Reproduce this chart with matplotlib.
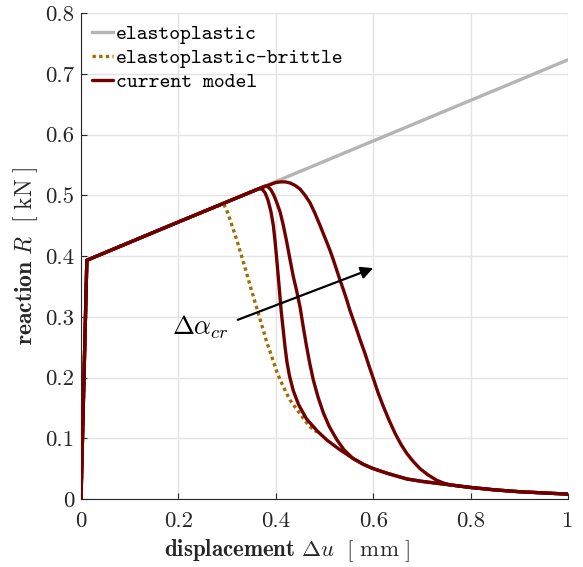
import matplotlib
matplotlib.use("Agg")
import matplotlib.pyplot as plt

plt.rcParams['mathtext.fontset'] = 'cm'
plt.rcParams['font.family'] = ['cmr10', 'DejaVu Serif']
plt.rcParams['axes.formatter.use_mathtext'] = True

# ---- data ----
x_ep = [0.0, 0.012, 1.0]
y_ep = [0.0, 0.393, 0.723]

x_epb = [0.0, 0.012, 0.2, 0.28, 0.288, 0.294, 0.299, 0.306, 0.313, 0.320, 0.326,
         0.333, 0.340, 0.347, 0.354, 0.361, 0.368, 0.375, 0.381, 0.388, 0.394,
         0.401, 0.409, 0.419, 0.429, 0.440, 0.450, 0.460, 0.470, 0.485]
y_epb = [0.0, 0.393, 0.456, 0.482, 0.485, 0.484, 0.476, 0.460, 0.443, 0.426, 0.410,
         0.391, 0.372, 0.352, 0.333, 0.314, 0.295, 0.276, 0.259, 0.243, 0.229,
         0.212, 0.196, 0.179, 0.163, 0.151, 0.140, 0.129, 0.119, 0.110]

x_cm1 = [0.0, 0.012, 0.2, 0.36, 0.366, 0.372, 0.378, 0.384, 0.390, 0.395, 0.399,
         0.403, 0.407, 0.411, 0.415, 0.419, 0.423, 0.428, 0.436, 0.447, 0.463,
         0.485, 0.505, 0.53, 0.545, 0.56, 0.58, 0.6, 0.63, 0.669, 0.7, 0.74,
         0.8, 0.85, 0.9, 0.95, 1.0]
y_cm1 = [0.0, 0.393, 0.456, 0.509, 0.511, 0.510, 0.504, 0.492, 0.473, 0.450, 0.420,
         0.385, 0.348, 0.310, 0.280, 0.250, 0.225, 0.203, 0.178, 0.155, 0.132,
         0.112, 0.097, 0.082, 0.074, 0.066, 0.057, 0.050, 0.042, 0.033, 0.029, 0.025,
         0.019, 0.015, 0.012, 0.010, 0.008]

x_cm2 = [0.0, 0.012, 0.2, 0.36, 0.372, 0.378, 0.384, 0.390, 0.396, 0.402, 0.409,
         0.415, 0.422, 0.429, 0.436, 0.443, 0.450, 0.456, 0.463, 0.470, 0.477,
         0.487, 0.498, 0.510, 0.525, 0.540, 0.558, 0.58, 0.6, 0.63, 0.669, 0.7,
         0.74, 0.8, 0.85, 0.9, 0.95, 1.0]
y_cm2 = [0.0, 0.393, 0.456, 0.509, 0.513, 0.515, 0.514, 0.509, 0.500, 0.488, 0.472,
         0.452, 0.425, 0.395, 0.366, 0.342, 0.315, 0.285, 0.252, 0.222, 0.196,
         0.167, 0.141, 0.119, 0.098, 0.081, 0.067, 0.057, 0.050, 0.042, 0.033, 0.029,
         0.025, 0.019, 0.015, 0.012, 0.010, 0.008]

x_cm3 = [0.0, 0.012, 0.2, 0.36, 0.38, 0.39, 0.40, 0.41, 0.42, 0.43, 0.44, 0.45,
         0.46, 0.47, 0.48, 0.491, 0.50, 0.511, 0.518, 0.525, 0.532, 0.539, 0.546,
         0.552, 0.559, 0.566, 0.574, 0.583, 0.591, 0.600, 0.610, 0.621, 0.633,
         0.645, 0.657, 0.669, 0.682, 0.696, 0.712, 0.730, 0.745, 0.76, 0.8, 0.85,
         0.9, 0.95, 1.0]
y_cm3 = [0.0, 0.393, 0.456, 0.509, 0.515, 0.518, 0.521, 0.522, 0.522, 0.520, 0.516,
         0.510, 0.500, 0.488, 0.471, 0.450, 0.432, 0.410, 0.394, 0.377, 0.360, 0.344,
         0.327, 0.311, 0.295, 0.279, 0.260, 0.240, 0.220, 0.199, 0.175, 0.152, 0.129,
         0.108, 0.090, 0.075, 0.062, 0.050, 0.040, 0.031, 0.026, 0.023, 0.019, 0.015,
         0.012, 0.010, 0.008]

x_ticks = [0, 0.2, 0.4, 0.6, 0.8, 1.0]
x_ticklabels = ['0', '0.2', '0.4', '0.6', '0.8', '1']
y_ticks = [0, 0.1, 0.2, 0.3, 0.4, 0.5, 0.6, 0.7, 0.8]
y_ticklabels = ['0', '0.1', '0.2', '0.3', '0.4', '0.5', '0.6', '0.7', '0.8']

labels = ['elastoplastic', 'elastoplastic-brittle', 'current model']

arrow_start = (0.322, 0.295)
arrow_end = (0.600, 0.380)
arrow_text_pos = (0.245, 0.282)

# ---- figure ----
fig = plt.figure(figsize=(5.83, 5.67), dpi=100)
ax = fig.add_axes([81 / 583, 1 - 499 / 567, (568 - 81) / 583, (499 - 13) / 567])

c_gray = '#b4b4b4'
c_brit = '#a46c00'
c_cm = '#700000'
lw = 2.4

ax.plot(x_ep, y_ep, color=c_gray, lw=lw, label=labels[0], zorder=2)
ax.plot(x_epb, y_epb, color=c_brit, lw=lw, dashes=(1, 1), label=labels[1], zorder=3)
for xs, ys, lab in [(x_cm1, y_cm1, labels[2]), (x_cm2, y_cm2, None), (x_cm3, y_cm3, None)]:
    ax.plot(xs, ys, color=c_cm, lw=lw, label=lab, zorder=4,
            solid_joinstyle='round', solid_capstyle='round')

ax.set_xlim(0, 1)
ax.set_ylim(0, 0.8)
ax.set_xticks(x_ticks)
ax.set_xticklabels(x_ticklabels)
ax.set_yticks(y_ticks)
ax.set_yticklabels(y_ticklabels)
ax.tick_params(direction='in', length=4, width=0.8, labelsize=16.5, colors='#262626',
               labelcolor='#262626')
ax.tick_params(axis='x', pad=9)
ax.tick_params(axis='y', pad=5)
ax.grid(True, color='#e3e3e3', lw=1.0)
ax.set_axisbelow(True)
for s in ['top', 'right']:
    ax.spines[s].set_visible(False)
for s in ['left', 'bottom']:
    ax.spines[s].set_color('#262626')
    ax.spines[s].set_linewidth(0.8)

ax.set_xlabel(r'$\mathbf{displacement}\ \Delta u\ \ [\ \mathrm{mm}\ ]$', fontsize=16.5,
              color='#262626')
ax.xaxis.set_label_coords(0.423, -0.078)
ax.set_ylabel(r'$\mathbf{reaction}\ R\ \ [\ \mathrm{kN}\ ]$', fontsize=17,
              color='#262626')
ax.yaxis.set_label_coords(-0.084, 0.5)

leg = ax.legend(loc='upper left', frameon=False, prop={'family': 'cmtt10', 'size': 14.9},
                handlelength=1.0, handletextpad=0.15, labelspacing=0.22,
                borderaxespad=0.35, borderpad=0.2)

ax.annotate('', xy=arrow_end, xytext=arrow_start,
            arrowprops=dict(arrowstyle='-|>', color='black', lw=1.6,
                            mutation_scale=18, shrinkA=0, shrinkB=0), zorder=6)
ax.text(arrow_text_pos[0], arrow_text_pos[1], r'$\Delta\alpha_{cr}$', fontsize=19,
        ha='center', va='center', zorder=6)

fig.savefig('out.png', dpi=100)
